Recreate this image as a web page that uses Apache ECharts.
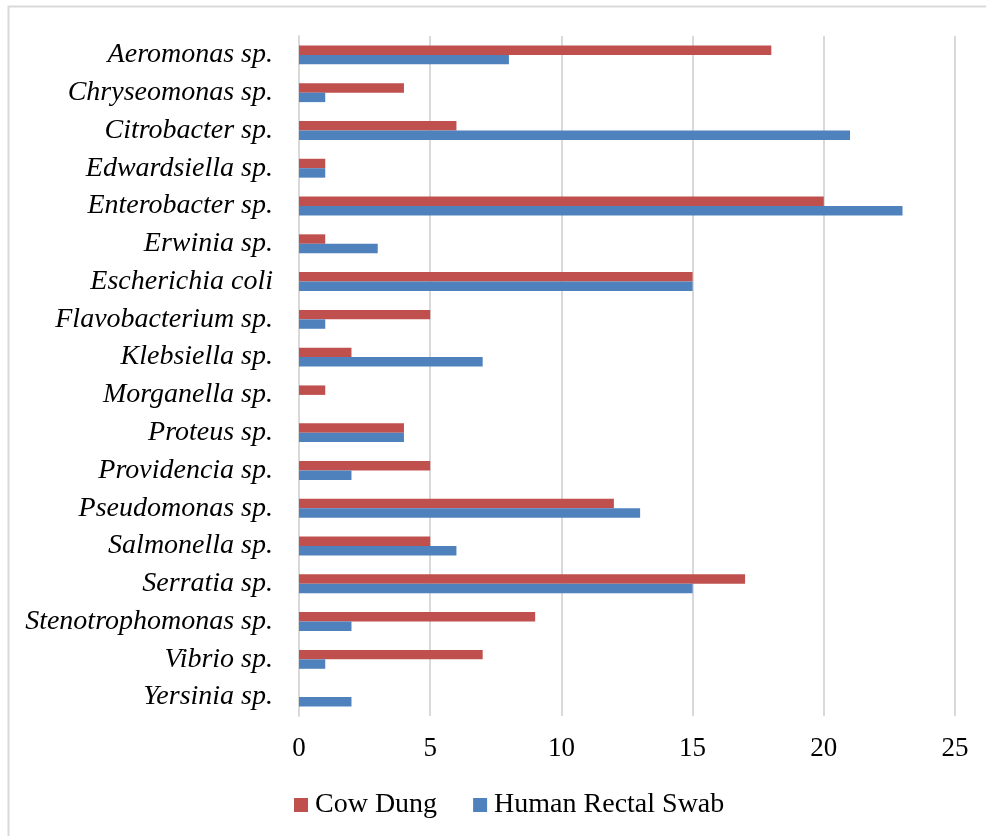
<!DOCTYPE html>
<html>
<head>
<meta charset="utf-8">
<title>Bacterial isolates by source</title>
<script src="https://cdn.jsdelivr.net/npm/echarts@6/dist/echarts.min.js"></script>
<style>
  html, body { margin: 0; padding: 0; background: #ffffff; }
  #chart { width: 986px; height: 836px; }
</style>
</head>
<body>
<div id="chart"></div>
<script>
// Isolates, listed top to bottom
const categories = [
  'Aeromonas sp.', 'Chryseomonas sp.', 'Citrobacter sp.', 'Edwardsiella sp.',
  'Enterobacter sp.', 'Erwinia sp.', 'Escherichia coli', 'Flavobacterium sp.',
  'Klebsiella sp.', 'Morganella sp.', 'Proteus sp.', 'Providencia sp.',
  'Pseudomonas sp.', 'Salmonella sp.', 'Serratia sp.', 'Stenotrophomonas sp.',
  'Vibrio sp.', 'Yersinia sp.'
];
const cowDung = [18, 4, 6, 1, 20, 1, 15, 5, 2, 1, 4, 5, 12, 5, 17, 9, 7, 0];
const humanRectalSwab = [8, 1, 21, 1, 23, 3, 15, 1, 7, 0, 4, 2, 13, 6, 15, 2, 1, 2];
const xTicks = [0, 5, 10, 15, 20, 25];

const serif = '"Liberation Serif", "Times New Roman", serif';
const chart = echarts.init(document.getElementById('chart'), null, { renderer: 'canvas' });

chart.setOption({
  backgroundColor: '#ffffff',
  animation: false,
  graphic: [{
    type: 'rect',
    shape: { x: 8.5, y: 6.5, width: 1000, height: 900 },
    style: { fill: 'none', stroke: '#d9d9d9', lineWidth: 2 },
    silent: true
  }],
  legend: {
    left: 294,
    top: 791,
    padding: 0,
    itemWidth: 14,
    itemHeight: 14,
    itemGap: 36,
    icon: 'rect',
    textStyle: { fontFamily: serif, fontSize: 28, lineHeight: 28, color: '#000000', padding: [0, 0, 0, 2] },
    data: ['Cow Dung', 'Human Rectal Swab']
  },
  grid: { left: 299, right: 31, top: 36, bottom: 120, containLabel: false },
  xAxis: {
    type: 'value',
    min: xTicks[0],
    max: xTicks[xTicks.length - 1],
    interval: 5,
    axisLine: { show: false },
    axisTick: { show: false },
    splitLine: { show: true, lineStyle: { color: '#d9d9d9', width: 2 } },
    axisLabel: { fontFamily: serif, fontSize: 27, color: '#000000', margin: 19 }
  },
  yAxis: {
    type: 'category',
    inverse: true,
    data: categories,
    axisLine: { show: true, lineStyle: { color: '#d9d9d9', width: 2 } },
    axisTick: { show: false },
    axisLabel: { fontFamily: serif, fontStyle: 'italic', fontSize: 28, color: '#000000', margin: 26 }
  },
  series: [
    {
      name: 'Cow Dung',
      type: 'bar',
      data: cowDung,
      barWidth: '25%',
      barGap: '0%',
      itemStyle: { color: '#c0504d' }
    },
    {
      name: 'Human Rectal Swab',
      type: 'bar',
      data: humanRectalSwab,
      barWidth: '25%',
      barGap: '0%',
      itemStyle: { color: '#4f81bd' }
    }
  ]
});
</script>
</body>
</html>
